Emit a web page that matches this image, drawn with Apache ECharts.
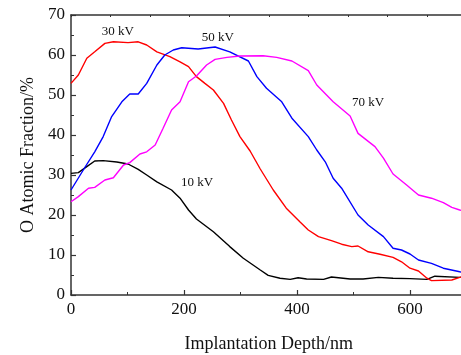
<!DOCTYPE html>
<html>
<head>
<meta charset="utf-8">
<script src="https://cdn.jsdelivr.net/npm/echarts@6/dist/echarts.min.js"></script>
<style>
  html, body { margin: 0; padding: 0; background: #fff; }
  #chart { width: 461px; height: 355px; }
</style>
</head>
<body>
<div id="chart"></div>
<script>
// depth (nm), O atomic fraction (%)
const kv10 = [[0,30.4],[13,30.6],[28,32.1],[42,33.5],[57,33.6],[81,33.25],[101,32.75],[119,31.4],[134,30],[152,28.3],[178,26.25],[193,24.2],[208,21.25],[222,19],[252,15.8],[281,12.1],[305,9.2],[335,6.25],[349,4.9],[370,4.2],[388,3.9],[402,4.3],[417,4],[447,3.9],[461,4.5],[494,4],[517,4],[544,4.4],[570,4.2],[600,4.1],[630,3.9],[644,4.7],[688,4.4],[700,4.5]];
const kv30 = [[0,52.9],[13,55],[28,59.2],[42,60.8],[60,62.9],[75,63.3],[101,63.1],[119,63.3],[134,62.5],[152,60.8],[175,59.6],[193,58.3],[208,57.1],[222,54.6],[237,52.9],[252,51.25],[270,47.9],[284,43.75],[299,39.6],[317,36],[335,31.5],[358,26.25],[381,21.7],[405,18.3],[420,16.25],[438,14.6],[461,13.6],[479,12.7],[497,12.1],[508,12.25],[526,10.8],[547,10.2],[570,9.4],[585,8.3],[600,6.7],[615,6],[630,4.2],[638,3.6],[674,3.75],[688,4.4],[700,4.5]];
const kv50 = [[0,26.25],[25,32],[42,35.8],[57,39.6],[72,44.6],[90,48.3],[104,50.25],[119,50.25],[134,52.9],[152,57.5],[166,60],[181,61.25],[196,61.8],[225,61.5],[255,62],[281,60.8],[314,58.5],[329,54.6],[346,51.7],[373,48.3],[391,44.2],[420,39.6],[435,36.25],[450,33.3],[464,29.2],[479,26.7],[508,20],[526,17.5],[553,14.6],[570,11.7],[585,11.25],[600,10.25],[615,8.75],[638,7.9],[659,6.7],[688,5.8],[700,5.6]];
const kv70 = [[0,23.3],[13,24.6],[31,26.7],[42,26.9],[60,28.75],[75,29.3],[93,32.5],[104,33.1],[122,35.25],[134,35.8],[149,37.5],[163,41.7],[178,46.25],[193,48.3],[208,53.3],[222,54.75],[240,57.5],[255,58.9],[276,59.4],[299,59.75],[340,59.8],[364,59.4],[391,58.5],[420,56.1],[435,52.5],[464,48.3],[494,44.75],[508,40.4],[538,37.1],[553,34.2],[570,30.25],[594,27.5],[615,25],[638,24.2],[659,23.1],[674,21.9],[688,21.25],[700,21]];

const seriesNames = ['10 kV', '30 kV', '50 kV', '70 kV'];
const seriesData = [kv10, kv30, kv50, kv70];
const colors = ['#000000', '#ff0000', '#0000ff', '#ff00ff'];
// where each curve label sits, in data units
const labelPos = [[223, 28], [83, 65.75], [260, 64.25], [526, 48]];

const FONT = '"Liberation Serif", "DejaVu Serif", serif';
const axisColor = '#333';

const chart = echarts.init(document.getElementById('chart'), null, { renderer: 'canvas' });

const option = {
  animation: false,
  grid: { left: 71, top: 15, width: 395.5, height: 280, containLabel: false, outerBoundsMode: 'none' },
  xAxis: [
    {
      type: 'value', min: 0, max: 700, interval: 200,
      name: 'Implantation Depth/nm', nameLocation: 'middle', nameGap: 40,
      nameTextStyle: { fontFamily: FONT, fontSize: 18, color: '#111' },
      axisLine: { show: true, onZero: false, lineStyle: { color: axisColor, width: 1.5 } },
      axisTick: { show: true, inside: true, length: 5, lineStyle: { color: axisColor, width: 1.2 } },
      minorTick: { show: true, splitNumber: 2, length: 3, lineStyle: { color: axisColor, width: 1 } },
      axisLabel: { fontFamily: FONT, fontSize: 17, color: '#111', margin: 6,
        formatter: v => (v === 700 ? '' : v) },
      splitLine: { show: false }
    },
    {
      type: 'value', position: 'top', min: 0, max: 700, interval: 70,
      axisLine: { show: true, onZero: false, lineStyle: { color: axisColor, width: 1.5 } },
      axisTick: { show: true, inside: true, length: 2, lineStyle: { color: axisColor, width: 1 } },
      axisLabel: { show: false },
      splitLine: { show: false }
    }
  ],
  yAxis: {
    type: 'value', min: 0, max: 70, interval: 10,
    name: 'O Atomic Fraction/%', nameLocation: 'middle', nameGap: 32,
    nameTextStyle: { fontFamily: FONT, fontSize: 18, color: '#111' },
    axisLine: { show: true, onZero: false, lineStyle: { color: axisColor, width: 1.5 } },
    axisTick: { show: true, inside: true, length: 5, lineStyle: { color: axisColor, width: 1.2 } },
    minorTick: { show: true, splitNumber: 2, length: 3, lineStyle: { color: axisColor, width: 1 } },
    axisLabel: { fontFamily: FONT, fontSize: 17, color: '#111', margin: 6 },
    splitLine: { show: false }
  },
  series: seriesData.map((d, i) => ({
    name: seriesNames[i],
    type: 'line',
    xAxisIndex: 0,
    data: d,
    symbol: 'none',
    smooth: false,
    lineStyle: { color: colors[i], width: 1.4 },
    itemStyle: { color: colors[i] }
  }))
};

chart.setOption(option);

// curve labels, placed from data coords
chart.setOption({
  graphic: labelPos.map((p, i) => {
    const px = chart.convertToPixel({ xAxisIndex: 0, yAxisIndex: 0 }, p);
    return {
      type: 'text', x: px[0], y: px[1],
      style: { text: seriesNames[i], font: '13px ' + FONT, fill: '#111',
        textAlign: 'center', textVerticalAlign: 'middle' }
    };
  })
});
</script>
</body>
</html>
